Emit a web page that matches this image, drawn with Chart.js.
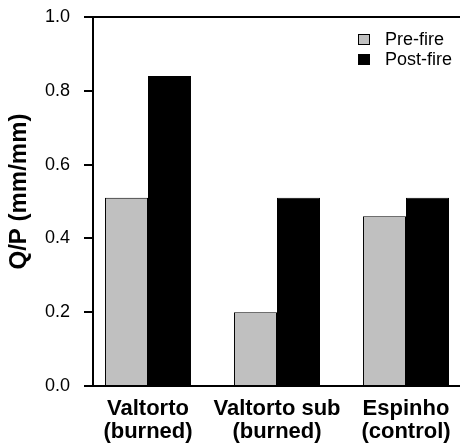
<!DOCTYPE html>
<html>
<head>
<meta charset="utf-8">
<script src="https://cdn.jsdelivr.net/npm/chart.js@4"></script>
<style>
  html, body { margin: 0; padding: 0; background: #fff; overflow: hidden; }
  #wrap { width: 460px; height: 446px; position: relative; }
</style>
</head>
<body>
<div id="wrap"><canvas id="c" width="460" height="446"></canvas></div>
<script>
const categories = [["Valtorto", "(burned)"], ["Valtorto sub", "(burned)"], ["Espinho", "(control)"]];
const seriesNames = ["Pre-fire", "Post-fire"];
const preFire = [0.51, 0.20, 0.46];
const postFire = [0.84, 0.51, 0.51];
const yTicks = [0.0, 0.2, 0.4, 0.6, 0.8, 1.0];

const FONT = "'Liberation Sans', Arial, sans-serif";

const legendPlugin = {
  id: 'cornerLegend',
  afterDraw(chart) {
    const ctx = chart.ctx;
    ctx.save();
    chart.data.datasets.forEach((ds, i) => {
      const bx = 358, by = 34 + i * 20;
      ctx.fillStyle = ds.backgroundColor;
      ctx.fillRect(bx, by, 12, 11);
      ctx.strokeStyle = '#000';
      ctx.lineWidth = 1;
      ctx.strokeRect(bx + 0.5, by + 0.5, 11, 10);
      ctx.fillStyle = '#000';
      ctx.font = "18px " + FONT;
      ctx.textBaseline = 'middle';
      ctx.textAlign = 'left';
      ctx.fillText(ds.label, 385, by + 6);
    });
    ctx.restore();
  }
};

const toPoints = arr => arr.map((v, i) => ({ x: i, y: v }));

new Chart(document.getElementById('c'), {
  type: 'bar',
  data: {
    datasets: [
      { label: seriesNames[0], data: toPoints(preFire), backgroundColor: '#c0c0c0', borderColor: '#000', borderWidth: 1 },
      { label: seriesNames[1], data: toPoints(postFire), backgroundColor: '#000000', borderColor: '#000', borderWidth: 1 }
    ]
  },
  options: {
    responsive: false,
    animation: false,
    layout: { padding: { top: 17, left: 0, right: 0, bottom: 0 } },
    datasets: { bar: { categoryPercentage: 0.667, barPercentage: 1.0 } },
    plugins: { legend: { display: false }, tooltip: { enabled: false } },
    scales: {
      x: {
        type: 'linear',
        offset: false,
        bounds: 'data',
        min: -55 / 129,
        max: 312 / 129,
        afterBuildTicks: s => { s.ticks = categories.map((c, i) => ({ value: i })); },
        afterFit: s => { s.height = 60; },
        grid: { display: false, offset: false },
        border: { display: false },
        ticks: {
          autoSkip: false,
          maxRotation: 0,
          padding: 3,
          color: '#000',
          font: { family: FONT, size: 22, weight: 'bold', lineHeight: 1.06 },
          callback: v => categories[v] || ''
        }
      },
      y: {
        min: 0,
        max: 1,
        afterBuildTicks: s => { s.ticks = yTicks.map(v => ({ value: v })); },
        afterFit: s => { s.width = 93; s.paddingTop = 4; s.paddingBottom = 4; },
        border: { display: true, color: '#000', width: 2 },
        grid: {
          drawOnChartArea: true,
          color: c => (c.tick && (c.tick.value === 0 || c.tick.value === 1)) ? '#000' : 'rgba(0,0,0,0)',
          tickColor: '#000',
          tickLength: 9,
          lineWidth: 2
        },
        ticks: {
          padding: 14,
          color: '#000',
          font: { family: FONT, size: 18 },
          callback: v => Number(v).toFixed(1)
        },
        title: {
          display: true,
          text: '   Q/P (mm/mm)',
          color: '#000',
          font: { family: FONT, size: 24, weight: 'bold' },
          padding: { top: 5, bottom: 0 }
        }
      }
    }
  },
  plugins: [legendPlugin]
});
</script>
</body>
</html>
